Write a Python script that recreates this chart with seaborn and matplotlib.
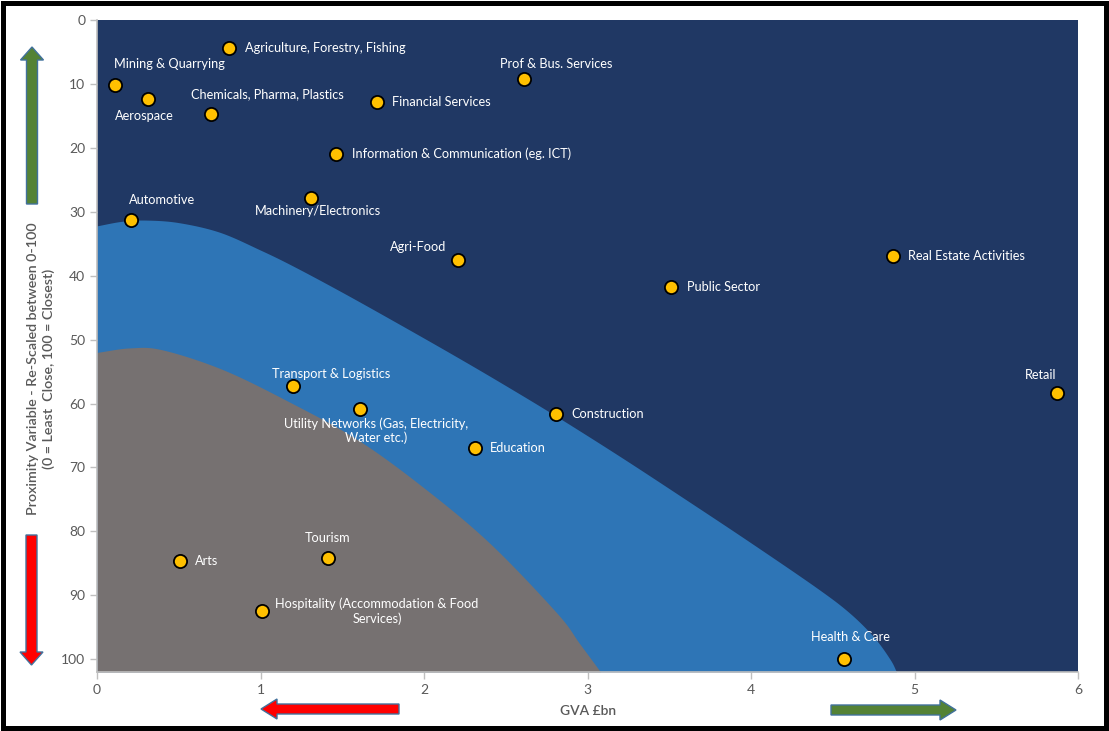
import matplotlib.pyplot as plt
import matplotlib.patches as mpatches
import numpy as np
import pandas as pd
import seaborn as sns

# sector positions
sectors = ["Agriculture, Forestry, Fishing", "Mining & Quarrying", "Aerospace",
           "Chemicals, Pharma, Plastics", "Prof & Bus. Services", "Financial Services",
           "Information & Communication (eg. ICT)", "Automotive", "Machinery/Electronics",
           "Agri-Food", "Real Estate Activities", "Public Sector", "Retail",
           "Transport & Logistics", "Utility Networks (Gas, Electricity,\nWater etc.)",
           "Construction", "Education", "Arts", "Tourism",
           "Hospitality (Accommodation & Food\nServices)", "Health & Care"]
gva = [0.81, 0.11, 0.31, 0.70, 2.61, 1.71, 1.46, 0.21, 1.31, 2.21, 4.87, 3.51, 5.87,
       1.20, 1.61, 2.81, 2.31, 0.51, 1.41, 1.01, 4.57]
proximity = [4.4, 10.2, 12.3, 14.7, 9.2, 12.8, 20.9, 31.3, 27.8, 37.5, 36.9, 41.7, 58.3,
             57.3, 60.8, 61.7, 67.0, 84.7, 84.2, 92.5, 100.0]

# outer (blue) zone boundary
band_x = [0, 0.15, 0.3, 0.5, 0.75, 1.0, 1.2, 1.5, 1.85, 2.2, 2.5, 2.81, 3.2, 3.6, 4.0,
          4.4, 4.6, 4.75, 4.85, 4.89]
band_y = [32.2, 31.5, 31.3, 31.7, 33.2, 36.0, 38.5, 42.6, 47.6, 52.7, 57.2, 62.0, 68.3,
          75.0, 81.8, 88.8, 92.7, 96.5, 100.0, 102]
# inner (grey) zone boundary
core_x = [0, 0.2, 0.4, 0.77, 1.18, 1.59, 1.99, 2.4, 2.81, 2.95, 3.08]
core_y = [52.0, 51.3, 51.6, 54.7, 59.8, 65.6, 73.0, 81.8, 92.7, 97.5, 102]

# label offsets in pixels (dx, dy downwards) and alignment
label_pos = [(16, 0, "left"), (54, -21, "center"), (-3, 17, "center"), (56, -20, "center"),
             (32, -15, "center"), (15, 0, "left"), (16, 0, "left"), (31, -20, "center"),
             (7, 13, "center"), (-40, -13, "center"), (15, 0, "left"), (16, 0, "left"),
             (-16, -18, "center"), (38, -12, "center"), (16, 22, "center"), (15, 0, "left"),
             (15, 0, "left"), (15, 0, "left"), (0, -20, "center"), (115, 0, "center"),
             (6, -22, "center")]


def smooth(xs, ys, n=20):
    # Catmull-Rom through the read points
    p = np.column_stack([xs, ys]).astype(float)
    p = np.vstack([2 * p[0] - p[1], p, 2 * p[-1] - p[-2]])
    out = []
    t = np.linspace(0, 1, n, endpoint=False)[:, None]
    for i in range(1, len(p) - 2):
        p0, p1, p2, p3 = p[i - 1], p[i], p[i + 1], p[i + 2]
        out.append(0.5 * (2 * p1 + (-p0 + p2) * t + (2 * p0 - 5 * p1 + 4 * p2 - p3) * t ** 2
                          + (-p0 + 3 * p1 - 3 * p2 + p3) * t ** 3))
    out.append(p[-2][None, :])
    out = np.vstack(out)
    return out[:, 0], out[:, 1]


df = pd.DataFrame({"Sector": sectors, "GVA": gva, "Proximity": proximity})

sns.set_style("white")
plt.rcParams["font.family"] = ["Lato", "DejaVu Sans"]

W, H = 1109, 731
fig = plt.figure(figsize=(W / 100, H / 100), dpi=100)
ax = fig.add_axes([97 / W, 1 - 672 / H, (1078 - 97) / W, (672 - 20) / H])
ax.set_facecolor("#203864")
bx, by = smooth(band_x, band_y)
cx, cy = smooth(core_x, core_y)
ax.fill_between(bx, by, 102, color="#2E75B6", lw=0, zorder=1)
ax.fill_between(cx, cy, 102, color="#767171", lw=0, zorder=2)
sns.scatterplot(data=df, x="GVA", y="Proximity", ax=ax, s=90, color="#FFC000",
                edgecolor="black", linewidth=1.3, zorder=5, legend=False)

for name, x, y, (dx, dy, ha) in zip(sectors, gva, proximity, label_pos):
    ax.annotate(name, (x, y), xytext=(dx, -dy), textcoords="offset pixels",
                ha=ha, va="center", color="white", fontsize=9.2, multialignment="center",
                zorder=6)

ax.set_xlim(0, 6)
ax.set_ylim(102, 0)
ax.set_xticks(range(7))
ax.set_yticks(range(0, 101, 10))
ax.set_xlabel("")
ax.set_ylabel("")
ax.tick_params(colors="#595959", labelsize=10, length=5, width=1, direction="out",
               left=True, bottom=True)
ax.tick_params(axis="both", color="#BFBFBF")
for s in ["top", "right"]:
    ax.spines[s].set_visible(False)
for s in ["left", "bottom"]:
    ax.spines[s].set_color("#BFBFBF")
    ax.spines[s].set_linewidth(1.2)

fig.text(41 / W, 1 - 369 / H,
         "Proximity Variable - Re-Scaled between 0-100\n(0 = Least  Close, 100 = Closest)",
         rotation=90, ha="center", va="center", fontsize=10.3, fontweight="semibold",
         color="#595959", multialignment="center", linespacing=1.25)
fig.text(588 / W, 1 - 711 / H, "GVA £bn", ha="center", va="center", fontsize=10,
         fontweight="semibold", color="#595959")

# overlay in pixel units for arrows and frame
ov = fig.add_axes([0, 0, 1, 1], zorder=10)
ov.set_xlim(0, W)
ov.set_ylim(H, 0)
ov.axis("off")
ov.patch.set_alpha(0)
arrow_kw = dict(length_includes_head=True, width=11, head_width=23, head_length=13,
                ec="#41719C", lw=1)
ov.add_patch(mpatches.FancyArrow(32, 204, 0, -157, fc="#548235", **arrow_kw))
ov.add_patch(mpatches.FancyArrow(31.5, 535, 0, 130, fc="#FF0000", **arrow_kw))
arrow_kw.update(width=10, head_width=20, head_length=16)
ov.add_patch(mpatches.FancyArrow(399, 709, -138, 0, fc="#FF0000", **arrow_kw))
ov.add_patch(mpatches.FancyArrow(831, 710, 125, 0, fc="#548235", **arrow_kw))
ov.add_patch(mpatches.Rectangle((3, 3), W - 6, H - 6, fill=False, ec="black", lw=3.6))

fig.savefig("out.png", dpi=100)
